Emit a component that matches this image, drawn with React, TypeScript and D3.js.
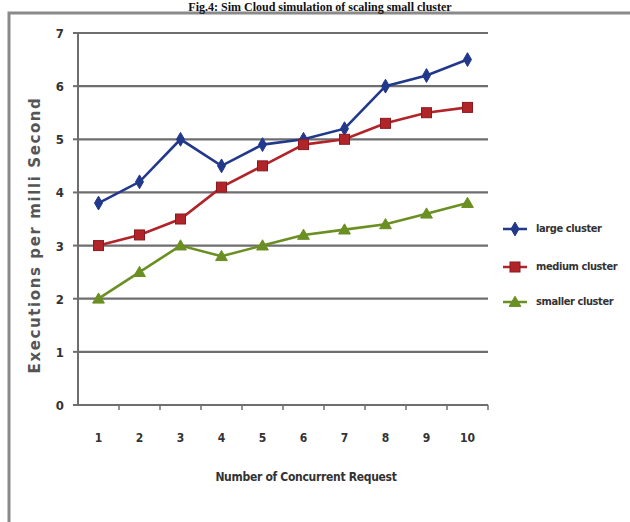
import React from "react";
import * as d3 from "d3";

const categories = ["1", "2", "3", "4", "5", "6", "7", "8", "9", "10"];
const largeCluster = [3.8, 4.2, 5.0, 4.5, 4.9, 5.0, 5.2, 6.0, 6.2, 6.5];
const mediumCluster = [3.0, 3.2, 3.5, 4.1, 4.5, 4.9, 5.0, 5.3, 5.5, 5.6];
const smallerCluster = [2.0, 2.5, 3.0, 2.8, 3.0, 3.2, 3.3, 3.4, 3.6, 3.8];
const yTicks = [0, 1, 2, 3, 4, 5, 6, 7];
const seriesNames = ["large cluster", "medium cluster", "smaller cluster"];
const seriesColors = ["#22388a", "#b0242a", "#6b8f23"];
const seriesMarkers = ["diamond", "square", "triangle"];
const title = "Fig.4: Sim Cloud simulation of scaling small cluster";

const W = 630, H = 522;
const left = 78, right = 488, top = 33, bottom = 405;

export default function App() {
  const x = d3.scaleBand<string>().domain(categories).range([left, right]);
  const y = d3.scaleLinear().domain([0, 7]).range([bottom, top]);
  const allSeries = [largeCluster, mediumCluster, smallerCluster];
  const line = d3
    .line<number>()
    .x((_, i) => (x(categories[i]) as number) + x.bandwidth() / 2)
    .y((d) => y(d));
  const tickFont = "'Liberation Sans Narrow', 'DejaVu Sans Condensed', 'Arial Narrow', sans-serif";

  const marker = (type: string, cx: number, cy: number, color: string, key: string) => {
    if (type === "diamond")
      return (
        <path key={key} d={d3.symbol(d3.symbolDiamond, 55)() as string} transform={`translate(${cx},${cy})`} fill={color} stroke={color} strokeWidth={1} />
      );
    if (type === "square")
      return <rect key={key} x={cx - 5} y={cy - 5} width={10} height={10} fill={color} stroke="#8a1a1e" strokeWidth={1} />;
    return (
      <path key={key} d={d3.symbol(d3.symbolTriangle, 60)() as string} transform={`translate(${cx},${cy + 1})`} fill={color} stroke={color} strokeWidth={1} />
    );
  };

  const legendY = [229, 267, 302];

  return (
    <svg width={W} height={H} style={{ position: "absolute", left: 0, top: 0, background: "#fff" }}>
      <rect x={0} y={0} width={W} height={H} fill="#fff" />
      {/* outer frame */}
      <path d={`M9,${H} V13 H${W}`} fill="none" stroke="#8a8a8a" strokeWidth={3} />
      <text x={320} y={11} textAnchor="middle" fontFamily="'Liberation Serif', 'Times New Roman', serif" fontWeight="bold" fontSize={12} fill="#111">
        {title}
      </text>
      {/* gridlines */}
      {yTicks.map((t) => (
        <line key={"g" + t} x1={left} x2={right} y1={y(t)} y2={y(t)} stroke="#6e6e6e" strokeWidth={2.2} />
      ))}
      {/* y axis */}
      <line x1={left} x2={left} y1={top} y2={bottom} stroke="#6e6e6e" strokeWidth={2} />
      {yTicks.map((t) => (
        <g key={"yt" + t}>
          <line x1={left - 5} x2={left} y1={y(t)} y2={y(t)} stroke="#6e6e6e" strokeWidth={2} />
          <text x={left - 14} y={y(t) + 5} textAnchor="end" fontFamily={tickFont} fontWeight="bold" fontSize={13} fill="#333">
            {t}
          </text>
        </g>
      ))}
      {/* x ticks */}
      {categories.map((c, i) => (
        <line key={"xt" + i} x1={(x(c) as number) + x.bandwidth()} x2={(x(c) as number) + x.bandwidth()} y1={bottom} y2={bottom + 5} stroke="#6e6e6e" strokeWidth={1.5} />
      ))}
      {categories.map((c) => (
        <text key={"xl" + c} x={(x(c) as number) + x.bandwidth() / 2} y={442} textAnchor="middle" fontFamily={tickFont} fontWeight="bold" fontSize={12} fill="#333">
          {c}
        </text>
      ))}
      <text x={306} y={481} textAnchor="middle" fontFamily={tickFont} fontWeight="bold" fontSize={12} fill="#333" letterSpacing={-0.3}>
        Number of Concurrent Request
      </text>
      <text transform="translate(40,235) rotate(-90)" textAnchor="middle" fontFamily="'DejaVu Sans', sans-serif" fontWeight="bold" fontSize={15} fill="#555" letterSpacing={1.6}>
        Executions per milli Second
      </text>
      {/* series */}
      {allSeries.map((s, si) => (
        <g key={"s" + si}>
          <path d={line(s) as string} fill="none" stroke={seriesColors[si]} strokeWidth={2.6} />
          {s.map((v, i) =>
            marker(seriesMarkers[si], (x(categories[i]) as number) + x.bandwidth() / 2, y(v), seriesColors[si], `m${si}-${i}`)
          )}
        </g>
      ))}
      {/* legend */}
      {seriesNames.map((n, i) => (
        <g key={"lg" + i}>
          <line x1={503} x2={527} y1={legendY[i]} y2={legendY[i]} stroke={seriesColors[i]} strokeWidth={2.5} />
          {marker(seriesMarkers[i], 515, legendY[i], seriesColors[i], "lm" + i)}
          <text x={536} y={legendY[i] + 3} fontFamily={tickFont} fontWeight="bold" fontSize={11} fill="#333" letterSpacing={-0.4}>
            {n}
          </text>
        </g>
      ))}
    </svg>
  );
}
